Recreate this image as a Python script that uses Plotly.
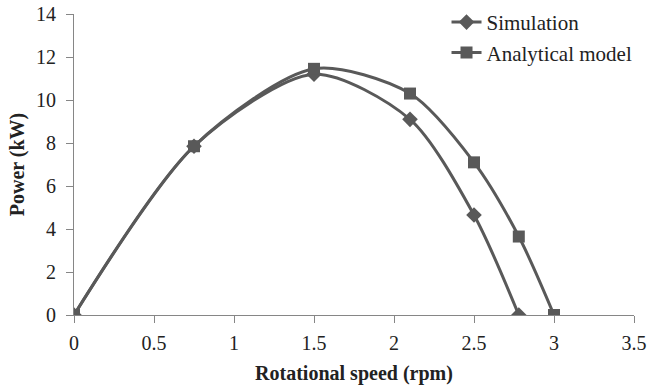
import plotly.graph_objects as go

sim_x = [0, 0.75, 1.5, 2.1, 2.5, 2.78]
sim_y = [0, 7.85, 11.2, 9.1, 4.65, 0]
ana_x = [0, 0.75, 1.5, 2.1, 2.5, 2.78, 3.0]
ana_y = [0, 7.85, 11.45, 10.3, 7.1, 3.65, 0]

col = "#595959"
fig = go.Figure()
fig.add_trace(go.Scatter(x=sim_x, y=sim_y, name="Simulation", mode="lines+markers",
                         line=dict(color=col, width=3, shape="spline", smoothing=0.8),
                         marker=dict(symbol="diamond", size=12, color=col)))
fig.add_trace(go.Scatter(x=ana_x, y=ana_y, name="Analytical model", mode="lines+markers",
                         line=dict(color=col, width=3, shape="spline", smoothing=0.8),
                         marker=dict(symbol="square", size=12, color=col)))

font = "Liberation Serif, Times New Roman, serif"
fig.update_layout(
    width=649, height=387,
    margin=dict(l=74, r=15, t=14, b=72, autoexpand=False),
    plot_bgcolor="white", paper_bgcolor="white",
    font=dict(family=font, size=20, color="#222"),
    legend=dict(x=0.688, y=0.995, xref="container", yref="container",
                xanchor="left", yanchor="top",
                font=dict(family=font, size=21, color="#222"),
                bgcolor="rgba(0,0,0,0)", tracegroupgap=0, itemwidth=30),
    xaxis=dict(range=[0, 3.5], tickvals=[0, 0.5, 1, 1.5, 2, 2.5, 3, 3.5],
               ticktext=["0", "0.5", "1", "1.5", "2", "2.5", "3", "3.5"],
               showgrid=False, zeroline=False, showline=True, linecolor="#868686",
               ticks="outside", ticklen=7, tickcolor="#868686", ticklabelstandoff=3,
               automargin=False,
               title=dict(text="<b>Rotational speed (rpm)</b>", font=dict(size=20), standoff=12)),
    yaxis=dict(range=[0, 14], tickvals=list(range(0, 15, 2)),
               showgrid=False, zeroline=False, showline=True, linecolor="#868686",
               ticks="outside", ticklen=7, tickcolor="#868686", ticklabelstandoff=6,
               automargin=False,
               title=dict(text="<b>Power (kW)</b>", font=dict(size=20), standoff=6)),
)
fig.write_html("out.html")
